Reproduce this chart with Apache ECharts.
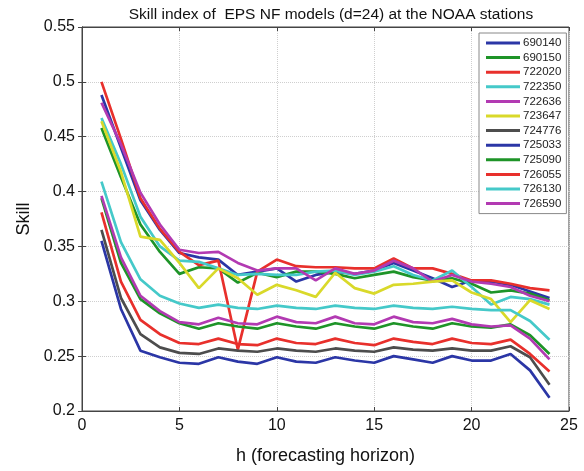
<!DOCTYPE html>
<html>
<head>
<meta charset="utf-8">
<script src="https://cdn.jsdelivr.net/npm/echarts@6/dist/echarts.min.js"></script>
<style>
  html, body { margin: 0; padding: 0; background: #fff; }
  #chart { width: 584px; height: 471px; }
</style>
</head>
<body>
<div id="chart"></div>
<script>
// Forecast horizons (hours ahead)
const horizons = [1,2,3,4,5,6,7,8,9,10,11,12,13,14,15,16,17,18,19,20,21,22,23,24];

// Skill index per station
const s690140 = [0.488,0.440,0.392,0.365,0.344,0.340,0.338,0.324,0.327,0.330,0.318,0.324,0.327,0.325,0.328,0.335,0.328,0.321,0.313,0.319,0.318,0.315,0.309,0.303];
const s690150 = [0.458,0.413,0.370,0.345,0.325,0.331,0.330,0.317,0.326,0.322,0.327,0.327,0.325,0.321,0.324,0.327,0.322,0.319,0.321,0.316,0.308,0.310,0.307,0.301];
const s722020 = [0.500,0.448,0.394,0.366,0.345,0.333,0.337,0.256,0.327,0.338,0.332,0.331,0.331,0.330,0.330,0.339,0.330,0.330,0.325,0.319,0.319,0.316,0.312,0.310];
const s722350 = [0.467,0.425,0.377,0.350,0.337,0.336,0.330,0.324,0.325,0.324,0.324,0.327,0.328,0.324,0.327,0.332,0.324,0.319,0.328,0.313,0.297,0.304,0.302,0.297];
const s722636 = [0.481,0.443,0.399,0.370,0.347,0.344,0.345,0.335,0.328,0.330,0.330,0.319,0.330,0.325,0.328,0.337,0.330,0.318,0.324,0.318,0.316,0.313,0.305,0.300];
const s723647 = [0.464,0.418,0.359,0.356,0.335,0.312,0.330,0.321,0.306,0.315,0.310,0.304,0.326,0.312,0.307,0.315,0.316,0.318,0.319,0.308,0.302,0.281,0.301,0.293];
const s724776 = [0.365,0.303,0.270,0.258,0.253,0.252,0.257,0.255,0.254,0.257,0.255,0.254,0.257,0.255,0.254,0.258,0.256,0.255,0.257,0.255,0.255,0.259,0.249,0.224];
const s725033 = [0.355,0.293,0.255,0.249,0.244,0.243,0.249,0.245,0.243,0.249,0.245,0.244,0.249,0.246,0.244,0.250,0.247,0.244,0.250,0.246,0.246,0.252,0.237,0.212];
const s725090 = [0.394,0.335,0.302,0.289,0.280,0.275,0.280,0.277,0.275,0.280,0.277,0.275,0.280,0.277,0.275,0.280,0.277,0.275,0.280,0.277,0.276,0.279,0.269,0.252];
const s726055 = [0.381,0.318,0.283,0.270,0.262,0.261,0.266,0.261,0.260,0.266,0.262,0.261,0.266,0.262,0.260,0.266,0.263,0.261,0.266,0.262,0.261,0.265,0.252,0.236];
const s726130 = [0.409,0.354,0.320,0.305,0.298,0.294,0.297,0.294,0.293,0.296,0.294,0.293,0.296,0.294,0.293,0.296,0.294,0.293,0.295,0.293,0.292,0.292,0.282,0.265];
const s726590 = [0.396,0.340,0.305,0.291,0.281,0.279,0.285,0.280,0.279,0.286,0.281,0.280,0.286,0.280,0.279,0.286,0.281,0.280,0.284,0.279,0.277,0.278,0.266,0.247];

const stations = ['690140','690150','722020','722350','722636','723647','724776','725033','725090','726055','726130','726590'];
const stationValues = [s690140,s690150,s722020,s722350,s722636,s723647,s724776,s725033,s725090,s726055,s726130,s726590];

// Y axis tick values
const yTicks = [0.2,0.25,0.3,0.35,0.4,0.45,0.5,0.55];

const palette = ['#2b36a6','#1e9428','#e8302c','#45c9c9','#b23ab2','#d9d92a','#4d4d4d','#2b36a6','#1e9428','#e8302c','#45c9c9','#b23ab2'];

const FONT = '"Liberation Sans", Arial, sans-serif';

const series = stations.map((name, i) => ({
  name,
  type: 'line',
  xAxisIndex: 0,
  yAxisIndex: 0,
  data: horizons.map((h, k) => [h, stationValues[i][k]]),
  showSymbol: false,
  symbol: 'none',
  lineStyle: { width: 2.7, color: palette[i] },
  itemStyle: { color: palette[i] },
  z: 2 + i,
  animation: false
}));

const chart = echarts.init(document.getElementById('chart'), null, { renderer: 'canvas' });
chart.setOption({
  backgroundColor: '#ffffff',
  animation: false,
  color: palette,
  title: {
    text: 'Skill index of  EPS NF models (d=24) at the NOAA stations',
    left: 326, top: 2,
    textAlign: 'center',
    textStyle: { fontFamily: FONT, fontSize: 15.5, fontWeight: 'normal', color: '#111' }
  },
  grid: {
    left: 82, right: 15, top: 27, bottom: 60,
    show: true, borderColor: '#444', borderWidth: 1, backgroundColor: 'transparent'
  },
  legend: {
    orient: 'vertical',
    left: 479, top: 33,
    padding: [4, 5, 4, 7],
    itemWidth: 34, itemHeight: 3, itemGap: 2.6,
    icon: 'rect',
    borderColor: '#888', borderWidth: 1,
    backgroundColor: '#fff',
    data: stations,
    textStyle: { fontFamily: FONT, fontSize: 11.5, lineHeight: 12, color: '#222', padding: [0, 0, 0, -2] }
  },
  xAxis: [{
    type: 'value', min: 0, max: 25, interval: 5,
    name: 'h (forecasting horizon)', nameLocation: 'middle', nameGap: 36,
    nameTextStyle: { fontFamily: FONT, fontSize: 18, color: '#111' },
    axisLine: { show: true, lineStyle: { color: '#444' } },
    axisTick: { show: true, inside: true, length: 4, lineStyle: { color: '#444' } },
    axisLabel: { fontFamily: FONT, fontSize: 16, color: '#111', margin: 7 },
    splitLine: { show: true, lineStyle: { type: 'dotted', color: '#cfcfcf' } }
  }, {
    type: 'value', min: 0, max: 25, interval: 5, position: 'top',
    axisLine: { show: true, lineStyle: { color: '#444' } },
    axisTick: { show: true, inside: true, length: 4, lineStyle: { color: '#444' } },
    axisLabel: { show: false }, splitLine: { show: false }
  }],
  yAxis: [{
    type: 'value', min: yTicks[0], max: yTicks[yTicks.length - 1], interval: 0.05,
    name: 'Skill', nameLocation: 'middle', nameGap: 42,
    nameTextStyle: { fontFamily: FONT, fontSize: 18, color: '#111' },
    axisLine: { show: true, lineStyle: { color: '#444' } },
    axisTick: { show: true, inside: true, length: 4, lineStyle: { color: '#444' } },
    axisLabel: { fontFamily: FONT, fontSize: 16, color: '#111', margin: 7,
      formatter: v => String(+v.toFixed(2)) },
    splitLine: { show: true, lineStyle: { type: 'dotted', color: '#cfcfcf' } }
  }, {
    type: 'value', min: yTicks[0], max: yTicks[yTicks.length - 1], interval: 0.05, position: 'right',
    axisLine: { show: true, lineStyle: { color: '#444' } },
    axisTick: { show: true, inside: true, length: 4, lineStyle: { color: '#444' } },
    axisLabel: { show: false }, splitLine: { show: false }
  }],
  series
});
</script>
</body>
</html>
